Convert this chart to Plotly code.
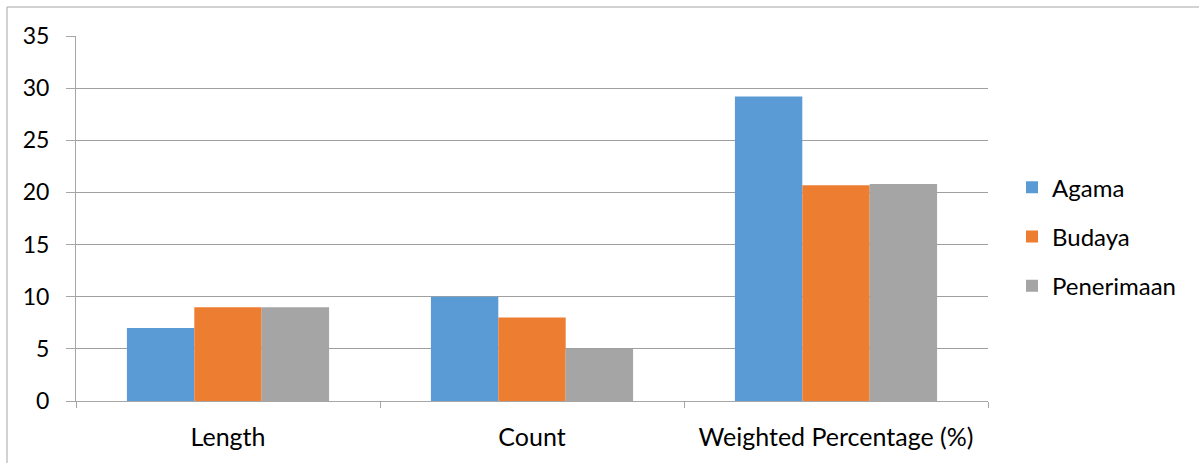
import plotly.graph_objects as go

categories = ["Length", "Count", "Weighted Percentage (%)"]
agama = [7, 10, 29.2]
budaya = [9, 8, 20.7]
penerimaan = [9, 5, 20.8]
y_ticks = [0, 5, 10, 15, 20, 25, 30, 35]

series = [("Agama", agama, "#5B9BD5"), ("Budaya", budaya, "#ED7D31"), ("Penerimaan", penerimaan, "#A5A5A5")]

fig = go.Figure()
for name, vals, col in series:
    fig.add_trace(go.Bar(x=categories, y=vals, name=name, marker=dict(color=col, line=dict(width=0)),
                         legendgroup=name))

FONT = "Lato, 'Open Sans', sans-serif"
fig.update_layout(
    width=1199, height=463,
    margin=dict(l=76, r=211, t=36, b=62),
    paper_bgcolor="white", plot_bgcolor="white",
    barmode="group", bargap=0.335, bargroupgap=0,
    font=dict(family=FONT, size=24, color="#000000"),
    legend=dict(x=(1012 - 76) / 912, y=0.45, xanchor="left", yanchor="middle",
                font=dict(size=24), tracegroupgap=15, itemwidth=30),
    showlegend=True,
)
fig.update_xaxes(showline=True, linecolor="#A6A6A6", linewidth=1,
                 ticks="outside", tickson="boundaries", ticklen=6, tickcolor="#A6A6A6",
                 tickfont=dict(size=25), ticklabelstandoff=14, showgrid=False)
fig.update_yaxes(range=[0, 35], tickvals=y_ticks, showline=True, linecolor="#A6A6A6", linewidth=1,
                 ticks="outside", ticklen=9, tickcolor="#A6A6A6",
                 showgrid=True, gridcolor="#A0A0A0", gridwidth=1, zeroline=False,
                 tickfont=dict(size=23), ticklabelstandoff=12)
fig.add_shape(type="rect", xref="paper", yref="paper",
              x0=(7 - 76) / 912, x1=1.3, y0=-0.3, y1=(401 - 7) / 365,
              line=dict(color="#A6A6A6", width=1), fillcolor="rgba(0,0,0,0)", layer="below")
fig.write_html("out.html", config={"displayModeBar": False},
               post_script="document.body.style.margin='0';")
